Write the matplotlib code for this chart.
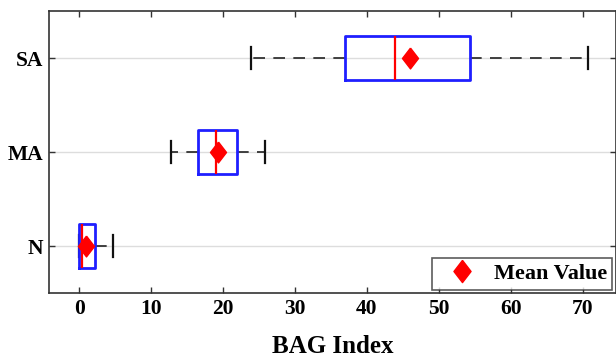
import matplotlib
matplotlib.use("Agg")
import matplotlib.pyplot as plt
from matplotlib.lines import Line2D

categories = ["N", "MA", "SA"]
whis_low = [0.0, 12.8, 23.9]
q1 = [0.0, 16.5, 36.9]
medians = [0.4, 19.0, 43.9]
q3 = [2.2, 21.9, 54.3]
whis_high = [4.7, 25.8, 70.8]
means = [1.0, 19.3, 46.0]
x_ticks = [0, 10, 20, 30, 40, 50, 60, 70]

plt.rcParams['font.family'] = ['Liberation Serif', 'DejaVu Serif']
plt.rcParams['font.weight'] = 'bold'

diamond = [(0, 1), (0.77, 0), (0, -1), (-0.77, 0), (0, 1)]

fig = plt.figure(figsize=(6.16, 3.57), dpi=100)
ax = fig.add_axes([0.0795, 0.179, 0.92, 0.79])

stats = []
for i, c in enumerate(categories):
    stats.append(dict(label=c, whislo=whis_low[i], q1=q1[i], med=medians[i],
                      q3=q3[i], whishi=whis_high[i], mean=means[i], fliers=[]))

positions = list(range(1, len(categories) + 1))
ax.bxp(stats, positions=positions, vert=False, widths=0.47, capwidths=0.23,
       showmeans=True, showfliers=False, patch_artist=False,
       boxprops=dict(color='#1f1fff', linewidth=2.0, zorder=3),
       medianprops=dict(color='red', linewidth=1.6, zorder=3),
       whiskerprops=dict(color='#222222', linewidth=1.2, linestyle=(0, (7, 5)), zorder=2),
       capprops=dict(color='#111111', linewidth=1.6, zorder=2),
       meanprops=dict(marker=diamond, markerfacecolor='red', markeredgecolor='red',
                      markersize=15, zorder=4))

ax.set_xlim(-4.2, 74.6)
ax.set_ylim(0.5, 3.5)
ax.set_yticks(positions)
ax.set_yticklabels(categories, fontsize=15.5, fontweight='bold')
ax.set_xticks(x_ticks)
ax.set_xticklabels([str(t) for t in x_ticks], fontsize=15.5, fontweight='bold')
ax.tick_params(axis='both', direction='in', top=True, right=True, length=4,
               width=1.0, color='#333333', pad=4)
ax.grid(axis='y', color='#dddddd', linewidth=1.0)
ax.set_axisbelow(True)
for s in ax.spines.values():
    s.set_color('#333333')
    s.set_linewidth(1.2)

ax.set_xlabel("BAG Index", fontsize=18, fontweight='bold', labelpad=12)

handle = Line2D([], [], marker=diamond, color='red', linestyle='none', markersize=16)
leg = ax.legend([handle], ["Mean Value"], loc='lower right',
                frameon=True, fancybox=False, edgecolor='#333333',
                borderaxespad=0.15, handletextpad=0.3, borderpad=0.25,
                handlelength=2.2,
                prop=dict(family='Liberation Serif', weight='bold', size=16))
leg.get_frame().set_linewidth(1.2)

fig.savefig("out.png", dpi=100)
